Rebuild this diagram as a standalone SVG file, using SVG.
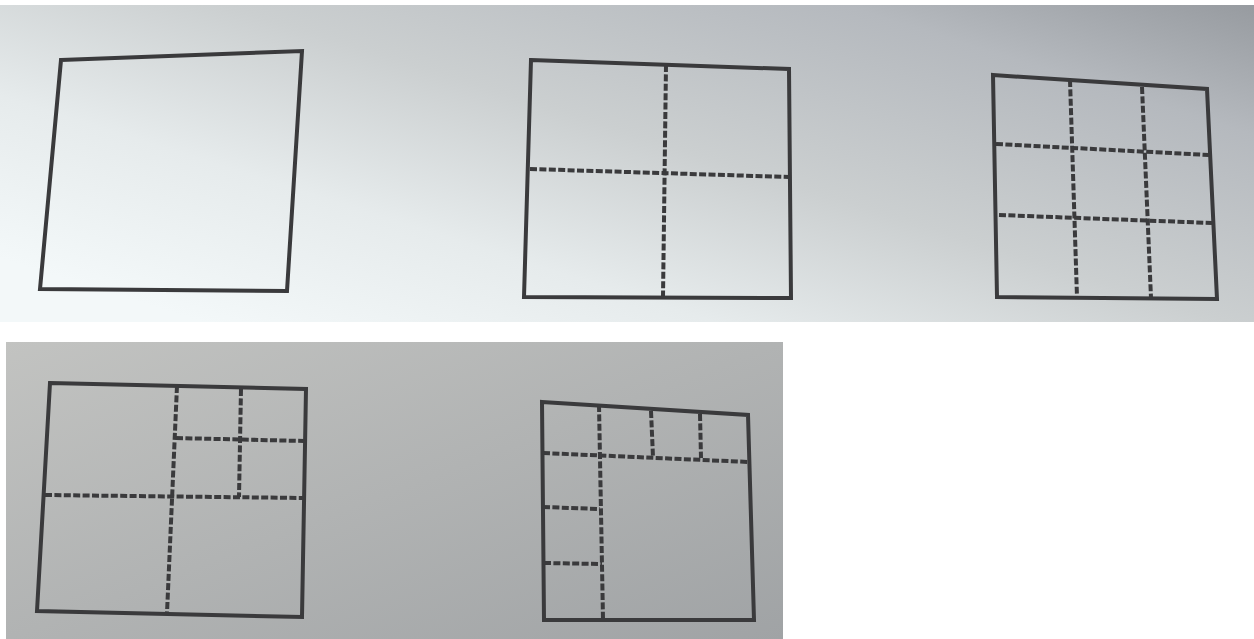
<svg xmlns="http://www.w3.org/2000/svg" width="1254" height="639" viewBox="0 0 1254 639">
<defs>
<linearGradient id="bgTop" x1="0" y1="0.8" x2="1" y2="0">
<stop offset="0" stop-color="#f3f8f9"/>
<stop offset="0.25" stop-color="#e6ebec"/>
<stop offset="0.5" stop-color="#cbcfd0"/>
<stop offset="0.8" stop-color="#b5b9be"/>
<stop offset="1" stop-color="#979ba0"/>
</linearGradient>
<linearGradient id="bgBot" x1="0" y1="0" x2="1" y2="1">
<stop offset="0" stop-color="#c2c3c1"/>
<stop offset="0.5" stop-color="#b1b3b3"/>
<stop offset="1" stop-color="#a0a3a5"/>
</linearGradient>
<style>
.box{fill:none;stroke:#3a3a3c;stroke-width:4;stroke-linejoin:miter}
.dash{fill:none;stroke:#3a3a3c;stroke-width:4;stroke-dasharray:7 2.4}
</style>
</defs>
<rect x="0" y="0" width="1254" height="639" fill="#ffffff"/>
<rect x="0" y="5" width="1254" height="317" fill="url(#bgTop)"/>
<rect x="6" y="342" width="777" height="297" fill="url(#bgBot)"/>

<g id="square1">
<polygon class="box" points="61,60 302,51 287,291 40,289"/>
</g>

<g id="square2">
<polygon class="box" points="531,60 789,69 791,298 524,297"/>
</g>

<g id="square3">
<polygon class="box" points="993,75 1207,89 1217,299 997,297"/>
</g>

<g id="square4">
<polygon class="box" points="50,383 306,389 302,617 37,611"/>
</g>

<g id="square5">
<polygon class="box" points="542,402 748,415 754,620 544,620"/>
</g>

<g id="connectors">
<!-- square 2 -->
<line class="dash" x1="666" y1="65" x2="663" y2="297"/>
<line class="dash" x1="530" y1="169" x2="789" y2="177"/>
<!-- square 3 -->
<line class="dash" x1="1070" y1="80" x2="1077" y2="297"/>
<line class="dash" x1="1142" y1="87" x2="1151" y2="298"/>
<line class="dash" x1="996" y1="144" x2="1209" y2="155"/>
<line class="dash" x1="999" y1="215" x2="1212" y2="223"/>
<!-- square 4 -->
<line class="dash" x1="177" y1="386" x2="167" y2="613"/>
<line class="dash" x1="45" y1="495" x2="304" y2="498"/>
<line class="dash" x1="241" y1="389" x2="239" y2="497"/>
<line class="dash" x1="176" y1="438" x2="304" y2="441"/>
<!-- square 5 -->
<line class="dash" x1="599" y1="405" x2="603" y2="619"/>
<line class="dash" x1="543" y1="453" x2="749" y2="462"/>
<line class="dash" x1="651" y1="411" x2="653" y2="457"/>
<line class="dash" x1="700" y1="414" x2="701" y2="458"/>
<line class="dash" x1="543" y1="507" x2="600" y2="509"/>
<line class="dash" x1="544" y1="563" x2="602" y2="564"/>
</g>
</svg>
